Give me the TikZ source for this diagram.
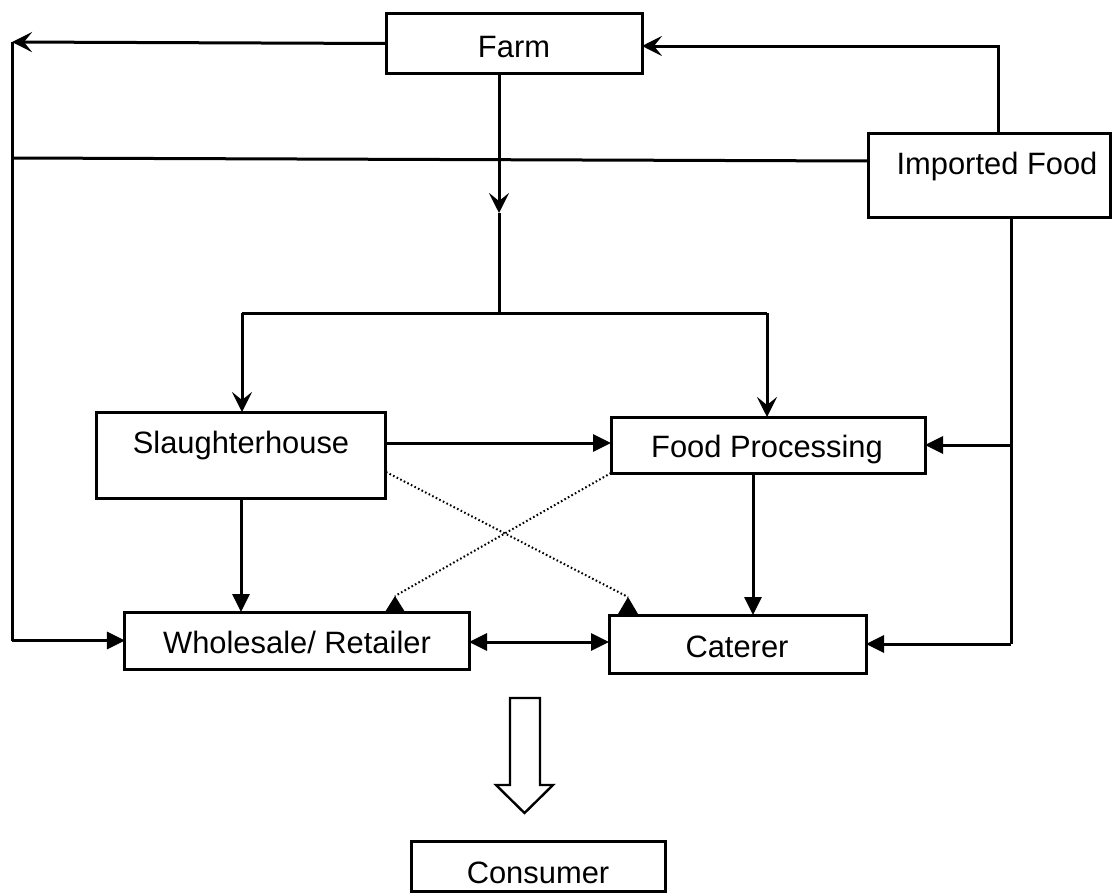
\documentclass[tikz,border=0pt]{standalone}
\usepackage{fontspec}
\setmainfont{Liberation Sans}
\usetikzlibrary{arrows.meta,calc}
\begin{document}
\begin{tikzpicture}[x=1bp,y=-1bp,
  box/.style={draw, line width=3bp, inner sep=0pt, outer sep=0pt},
  lbl/.style={font=\fontsize{31}{36}\selectfont, inner sep=0pt, anchor=base},
  flow/.style={line width=3bp},
  barb/.style={-{Stealth[length=20bp,width=20bp,inset=8bp]}},
  tri/.style={-{Triangle[length=18bp,width=17bp]}},
  dots/.style={line width=2bp, dash pattern=on 1.6bp off 2.4bp}]
\useasboundingbox (0,0) rectangle (1113,894);

% boxes
\node[box, minimum width=256bp, minimum height=59bp] (farm) at (514,43.5) {};
\node[box, minimum width=242bp, minimum height=84bp] (imp)  at (989,175) {};
\node[box, minimum width=288bp, minimum height=86bp] (sh)   at (241,455) {};
\node[box, minimum width=314bp, minimum height=56bp] (fp)   at (768,445) {};
\node[box, minimum width=344bp, minimum height=57bp] (whole) at (297,640.5) {};
\node[box, minimum width=257bp, minimum height=58bp] (cat)  at (737.5,644) {};
\node[box, minimum width=254bp, minimum height=50bp] (cons) at (538,866) {};

% labels
\node[lbl] (farmtxt)  at (514,57)  {Farm};
\node[lbl] (imptxt)   at (997,174) {Imported Food};
\node[lbl] (shtxt)    at (241,453) {Slaughterhouse};
\node[lbl] (fptxt)    at (767,457) {Food Processing};
\node[lbl] (wholetxt) at (297,653) {Wholesale/ Retailer};
\node[lbl] (cattxt)   at (737,657) {Caterer};
\node[lbl] (constxt)  at (538,883) {Consumer};

% junction points
\coordinate (ltop) at (12,42);
\coordinate (lmid) at (12,158);
\coordinate (lbot) at (12,640.5);
\coordinate (impw) at (868,161);
\coordinate (iup)  at (998,46);
\coordinate (ibot) at (998,133);
\coordinate (mid)  at (499,213);
\coordinate (fbot) at (499,73);
\coordinate (split) at (499,313);
\coordinate (sl) at (242,313);
\coordinate (sr) at (767,313);
\coordinate (shfp) at (385,443);
\coordinate (fpsh) at (611,443);
\coordinate (fc) at (753,473);
\coordinate (ir) at (1011,217);
\coordinate (dbl) at (469,642);
\coordinate (dbr) at (609,642);

% outer loop on the left
\draw[flow,barb] (farm.west) -- (ltop);
\draw[flow] (ltop) -- (lbot);
\draw[flow,tri] (lbot) -- (whole.west);
\draw[flow] (impw) -- (lmid);

% imported food to farm
\draw[flow,barb] (ibot) -- (iup) -- (farm.east |- iup);

% farm down to the split
\draw[flow,barb] (fbot) -- (mid);
\draw[flow] (mid) -- (split);
\draw[flow] (sl) -- (sr);
\draw[flow,barb] (sl) -- (sl |- sh.north);
\draw[flow,barb] (sr) -- (sr |- fp.north);

% middle level
\draw[flow,tri] (shfp) -- (fpsh);
\draw[flow,tri] (sh.south) -- (sh.south |- whole.north);
\draw[flow,tri] (fc) -- (fc |- cat.north);

% imported food down the right side
\draw[flow] (ir) -- (ir |- cat.east);
\draw[flow,tri] (ir |- cat.east) -- (cat.east);
\draw[flow,tri] (ir |- fp.east) -- (fp.east);

% wholesale <-> caterer
\draw[flow,{Triangle[length=18bp,width=17bp]}-{Triangle[length=18bp,width=17bp]}] (dbl) -- (dbr);

% dotted cross links
\coordinate (d1s) at (386,472);
\coordinate (d1e) at (628,597);
\coordinate (d2s) at (611,473);
\coordinate (d2e) at (395,596);
\draw[dots] (d1s) -- (d1e);
\draw[dots] (d2s) -- (d2e);
\fill (618,614) -- (d1e) -- (638,614) -- cycle;
\fill (385,612) -- (d2e) -- (405,612) -- cycle;

% hollow arrow towards the consumer
\draw[line width=2.4bp, line join=miter]
  (510,698) -- (540,698) -- (540,785) -- (553,785) -- (524.5,813)
  -- (496,785) -- (510,785) -- cycle;
\end{tikzpicture}
\end{document}
